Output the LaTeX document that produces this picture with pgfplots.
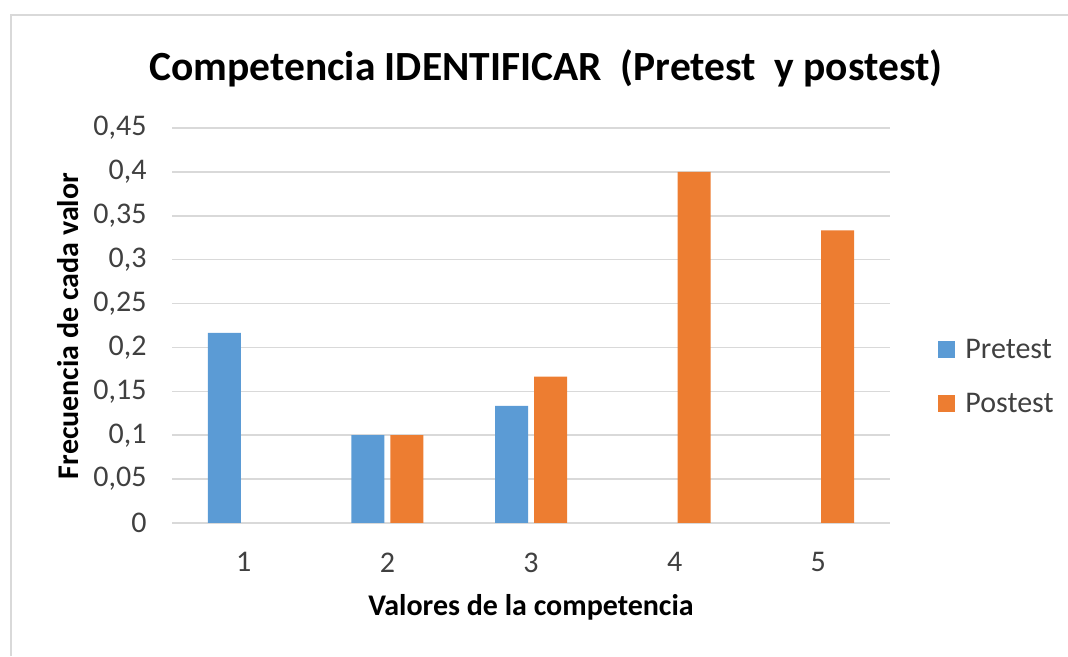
\documentclass[border=0pt]{standalone}
\usepackage{pgfplots}
\pgfplotsset{compat=1.18}
\usepackage{fontspec}
\setmainfont{Carlito}
\definecolor{preblue}{HTML}{5B9BD5}
\definecolor{postorange}{HTML}{ED7D31}
\definecolor{gridgray}{HTML}{D9D9D9}
\definecolor{framegray}{HTML}{D9D9D9}
\definecolor{txt}{HTML}{404040}
\begin{document}
\begin{tikzpicture}[x=1pt,y=1pt]
\useasboundingbox (0,0) rectangle (1068,656);
\draw[framegray,line width=2.5pt] (11,0) -- (11,641) -- (1068,641);
\begin{axis}[
  at={(172pt,133pt)}, anchor=south west,
  scale only axis, width=718pt, height=395pt,
  xmin=0.5, xmax=5.5, ymin=0, ymax=0.45,
  ybar=6pt, bar width=33pt,
  xtick={1,2,3,4,5}, xticklabels={1,2,3,4,5},
  ytick={0,0.05,0.1,0.15,0.2,0.25,0.3,0.35,0.4,0.45},
  yticklabels={0,{0,05},{0,1},{0,15},{0,2},{0,25},{0,3},{0,35},{0,4},{0,45}},
  major tick length=0pt,
  axis line style={draw=none},
  ymajorgrids, grid style={gridgray,line width=1.5pt},
  yticklabel style={font=\fontsize{30}{36}\selectfont, text=txt, xshift=-22pt},
  xticklabel style={font=\fontsize{30}{36}\selectfont, text=txt, yshift=-26pt},
  legend style={at={(1.063,0.37)}, anchor=west, draw=none, fill=none,
    font=\fontsize{30}{36}\selectfont, text=txt,
    row sep=29pt,
    /tikz/every odd column/.append style={column sep=8pt},
    /tikz/every even column/.append style={column sep=0pt}},
  legend cell align=left,
  legend image code/.code={\fill[#1] (0pt,-8.5pt) rectangle (17pt,8.5pt);},
  clip=false,
  y filter/.expression={y==0 ? nan : y},
  unbounded coords=discard,
]
\addplot[fill=preblue, draw=none] coordinates {(1,0.21667) (2,0.1) (3,0.13333) (4,0) (5,0)};
\addplot[fill=postorange, draw=none] coordinates {(1,0) (2,0.1) (3,0.16667) (4,0.4) (5,0.33333)};
\legend{Pretest, Postest}
\end{axis}
\node[font=\fontsize{41.5}{48}\selectfont\bfseries] at (546,588) {Competencia IDENTIFICAR\ \ (Pretest\ \ y postest)};
\node[font=\fontsize{30}{36}\selectfont\bfseries] at (531,49) {Valores de la competencia};
\node[font=\fontsize{30}{36}\selectfont\bfseries, rotate=90] at (68,330) {Frecuencia de cada valor};
\end{tikzpicture}
\end{document}
